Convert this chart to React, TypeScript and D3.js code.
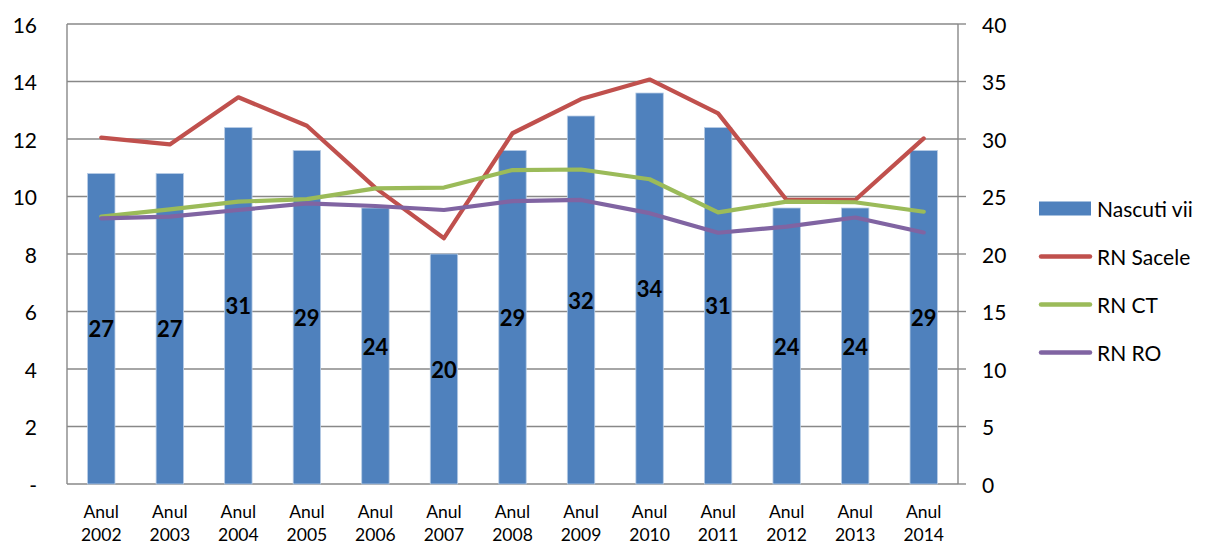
import React from "react";
import * as d3 from "d3";

const years = ["2002", "2003", "2004", "2005", "2006", "2007", "2008", "2009", "2010", "2011", "2012", "2013", "2014"];
const nascutiVii = [27, 27, 31, 29, 24, 20, 29, 32, 34, 31, 24, 24, 29];
const rnSacele = [12.05, 11.81, 13.45, 12.46, 10.3, 8.55, 12.2, 13.39, 14.07, 12.89, 9.88, 9.88, 12.02];
const rnCT = [9.3, 9.55, 9.82, 9.91, 10.28, 10.31, 10.92, 10.94, 10.6, 9.45, 9.82, 9.8, 9.47];
const rnRO = [9.24, 9.3, 9.53, 9.76, 9.67, 9.53, 9.84, 9.88, 9.42, 8.74, 8.95, 9.27, 8.75];
const leftTicks = [0, 2, 4, 6, 8, 10, 12, 14, 16];
const rightTicks = [0, 5, 10, 15, 20, 25, 30, 35, 40];

const W = 1208;
const H = 545;
const plot = { left: 67, right: 958, top: 24, bottom: 484 };
const FONT = "Lato, 'Open Sans', sans-serif";
const GRID = "#888888";

const lineSeries = [
  { name: "RN Sacele", values: rnSacele, color: "#C0504D" },
  { name: "RN CT", values: rnCT, color: "#9BBB59" },
  { name: "RN RO", values: rnRO, color: "#8064A2" },
];

export default function App() {
  const x = d3.scaleBand<string>().domain(years).range([plot.left, plot.right]).padding(0);
  const step = x.step();
  const barW = step * 0.4;
  const cx = (c: string) => (x(c) as number) + step / 2;
  const yL = d3.scaleLinear().domain([0, 16]).range([plot.bottom, plot.top]);
  const yR = d3.scaleLinear().domain([0, 40]).range([plot.bottom, plot.top]);

  const line = (vals: number[]) =>
    d3.line<number>().x((_, i) => cx(years[i])).y((v) => yL(v))(vals) as string;

  const legendX = 1039;
  const legendItems = [
    { name: "Nascuti vii", type: "bar", color: "#4F81BD" },
    ...lineSeries.map((s) => ({ name: s.name, type: "line", color: s.color })),
  ];

  return (
    <svg
      width={W}
      height={H}
      style={{ position: "absolute", left: 0, top: 0, background: "#fff" }}
      fontFamily={FONT}
    >
      {/* horizontal gridlines */}
      {leftTicks.map((t) => (
        <line key={"g" + t} x1={plot.left} x2={plot.right} y1={yL(t)} y2={yL(t)} stroke={GRID} strokeWidth={1.4} />
      ))}
      {/* axes */}
      <line x1={plot.left} x2={plot.left} y1={plot.top} y2={plot.bottom} stroke={GRID} strokeWidth={1.4} />
      <line x1={plot.right} x2={plot.right} y1={plot.top} y2={plot.bottom} stroke={GRID} strokeWidth={1.4} />
      {rightTicks.map((t) => (
        <line key={"rt" + t} x1={plot.right} x2={plot.right + 8} y1={yR(t)} y2={yR(t)} stroke={GRID} strokeWidth={1.4} />
      ))}

      {/* bars */}
      {nascutiVii.map((v, i) => (
        <rect
          key={"b" + i}
          x={cx(years[i]) - barW / 2}
          y={yR(v)}
          width={barW}
          height={plot.bottom - yR(v)}
          fill="#4F81BD"
          stroke="#B9CDE5"
          strokeWidth={0.8}
        />
      ))}

      {/* lines */}
      {lineSeries.map((s) => (
        <path key={s.name} d={line(s.values)} fill="none" stroke={s.color} strokeWidth={4.2} strokeLinejoin="round" strokeLinecap="round" />
      ))}

      {/* bar value labels */}
      {nascutiVii.map((v, i) => (
        <text
          key={"l" + i}
          x={cx(years[i])}
          y={(yR(v) + plot.bottom) / 2}
          textAnchor="middle"
          dominantBaseline="central"
          fontSize={22}
          fontWeight="bold"
          fill="#000"
        >
          {v}
        </text>
      ))}

      {/* left axis labels */}
      {leftTicks.map((t) => (
        <text key={"lt" + t} x={37} y={yL(t)} textAnchor="end" dominantBaseline="central" fontSize={21} fill="#000">
          {t === 0 ? "-" : t}
        </text>
      ))}
      {/* right axis labels */}
      {rightTicks.map((t) => (
        <text key={"rl" + t} x={982} y={yR(t)} textAnchor="start" dominantBaseline="central" fontSize={21} fill="#000">
          {t}
        </text>
      ))}

      {/* category labels */}
      {years.map((c) => (
        <text key={"c" + c} x={cx(c)} textAnchor="middle" fontSize={17.5} fill="#000">
          <tspan x={cx(c)} y={518}>Anul</tspan>
          <tspan x={cx(c)} y={541}>{c}</tspan>
        </text>
      ))}

      {/* legend */}
      {legendItems.map((it, i) => {
        const y = 208.5 + i * 48;
        return (
          <g key={"lg" + it.name}>
            {it.type === "bar" ? (
              <rect x={legendX} y={y - 7} width={52} height={14} fill={it.color} />
            ) : (
              <line x1={legendX + 2} x2={legendX + 51} y1={y} y2={y} stroke={it.color} strokeWidth={4.5} strokeLinecap="round" />
            )}
            <text x={1097} y={y} dominantBaseline="central" fontSize={21} fill="#000">
              {it.name}
            </text>
          </g>
        );
      })}
    </svg>
  );
}
